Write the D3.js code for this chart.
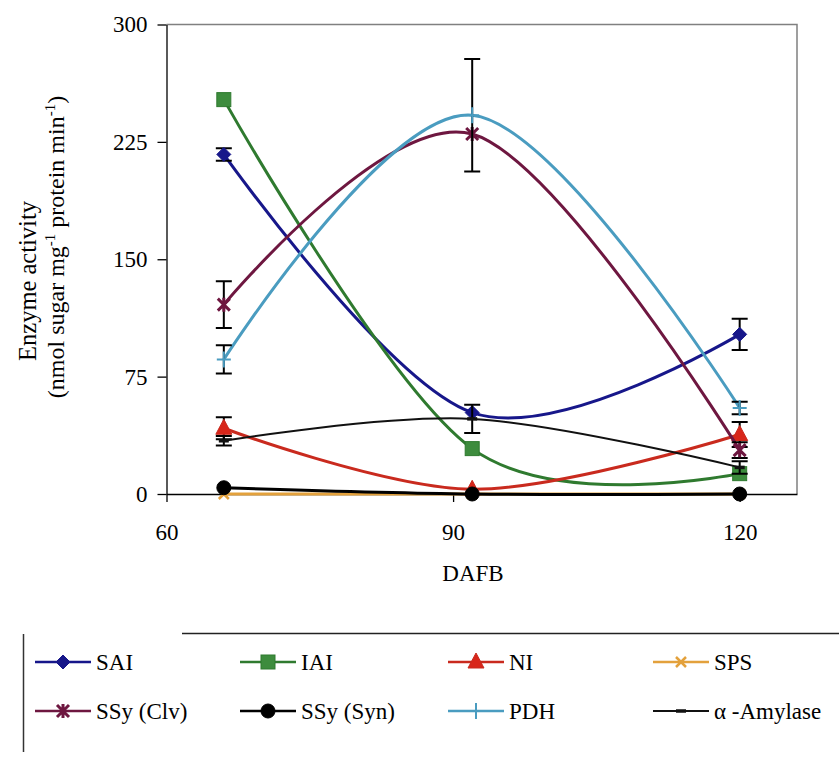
<!DOCTYPE html>
<html>
<head>
<meta charset="utf-8">
<script src="https://cdn.jsdelivr.net/npm/d3@7"></script>
<style>
  html, body { margin: 0; padding: 0; background: #fff; }
  svg { display: block; }
</style>
</head>
<body>
<svg id="chart" width="839" height="761"></svg>
<script>
// Sampling days (days after full bloom)
const dafb = [66, 92, 120];

// Enzyme activities (nmol sugar mg-1 protein min-1) and their error bars
const sai = [217, 52, 102];
const saiErr = [4, 0, 10];
const iai = [252, 29, 13];
const iaiErr = [0, 0, 0];
const ni = [42, 3, 38];
const niErr = [7, 0, 8];
const sps = [0, 0, 0];
const spsErr = [0, 0, 0];
const ssyClv = [121, 230, 28];
const ssyClvErr = [15, 0, 5];
const ssySyn = [4, 0, 0];
const ssySynErr = [0, 0, 0];
const pdh = [86, 242, 55];
const pdhErr = [9, 36, 4];
const amylase = [34, 48, 17];
const amylaseErr = [3, 9, 4];

const seriesNames = ["SAI", "IAI", "NI", "SPS", "SSy (Clv)", "SSy (Syn)", "PDH", "\u03b1 -Amylase"];

// Axis ticks
const yTicks = [0, 75, 150, 225, 300];
const xTicks = [60, 90, 120];

const series = [
  { name: seriesNames[0], v: sai, e: saiErr, color: "#17178a", marker: "diamond", w: 3 },
  { name: seriesNames[1], v: iai, e: iaiErr, color: "#2f7a2f", fill: "#3d8c3d", marker: "square", w: 3 },
  { name: seriesNames[2], v: ni, e: niErr, color: "#c92a1e", fill: "#d8261a", marker: "triangle", w: 3 },
  { name: seriesNames[3], v: sps, e: spsErr, color: "#e3a13c", marker: "x", w: 3 },
  { name: seriesNames[4], v: ssyClv, e: ssyClvErr, color: "#6e1740", marker: "star", w: 3 },
  { name: seriesNames[5], v: ssySyn, e: ssySynErr, color: "#000000", marker: "circle", w: 3 },
  { name: seriesNames[6], v: pdh, e: pdhErr, color: "#4a9cc0", marker: "plus", w: 3 },
  { name: seriesNames[7], v: amylase, e: amylaseErr, color: "#111111", marker: "dash", w: 2 }
];

const FS = 23;

const svg = d3.select("#chart");
const plotLeft = 166.5, plotRight = 797, plotTop = 24.5, plotBottom = 494;

const x = d3.scaleLinear().domain([60, 126]).range([plotLeft, plotRight]);
const y = d3.scaleLinear().domain([0, 300]).range([plotBottom, plotTop]);

function label(sel, size) {
  return sel.style("font-family", "Liberation Serif").style("font-size", (size || FS) + "px").attr("fill", "#000");
}

// Plot frame (top and right edges)
svg.append("path")
  .attr("d", `M${plotLeft},${plotTop}H${plotRight}V${plotBottom}`)
  .attr("fill", "none").attr("stroke", "#808080").attr("stroke-width", 1.5);

// Axes
const yAxis = svg.append("g").attr("transform", `translate(${plotLeft},0)`)
  .call(d3.axisLeft(y).tickValues(yTicks).tickSize(9).tickSizeOuter(0).tickPadding(10));
const xAxis = svg.append("g").attr("transform", `translate(0,${plotBottom})`)
  .call(d3.axisBottom(x).tickValues(xTicks).tickSize(8).tickSizeOuter(0).tickPadding(22));
[yAxis, xAxis].forEach(g => {
  label(g.selectAll("text"));
  g.selectAll("line").attr("stroke", "#000").attr("stroke-width", 1.3);
  g.select(".domain").attr("stroke", "#000").attr("stroke-width", 1.3);
});

// Axis titles
label(svg.append("text")).attr("x", 473).attr("y", 581)
  .attr("text-anchor", "middle").text("DAFB");

label(svg.append("text"), 24.5)
  .attr("transform", "translate(36,281) rotate(-90)")
  .attr("text-anchor", "middle").text("Enzyme activity");

const t2 = label(svg.append("text"), 24)
  .attr("transform", "translate(64,247) rotate(-90)")
  .attr("text-anchor", "middle");
t2.append("tspan").text("(nmol sugar mg");
t2.append("tspan").attr("dy", -9).style("font-size", "15px").text("-1");
t2.append("tspan").attr("dy", 9).text("  protein min");
t2.append("tspan").attr("dy", -9).style("font-size", "15px").text("-1");
t2.append("tspan").attr("dy", 9).text(")");

// Marker drawing
function drawMarker(g, type, color, fill) {
  const f = fill || color;
  switch (type) {
    case "diamond":
      g.append("path").attr("d", "M0,-7L7,0L0,7L-7,0Z").attr("fill", f).attr("stroke", color).attr("stroke-width", 1);
      break;
    case "square":
      g.append("rect").attr("x", -7).attr("y", -7).attr("width", 14).attr("height", 14)
        .attr("fill", f).attr("stroke", color).attr("stroke-width", 1);
      break;
    case "triangle":
      g.append("path").attr("d", "M0,-9L8,6L-8,6Z").attr("fill", f).attr("stroke", color).attr("stroke-width", 1);
      break;
    case "circle":
      g.append("circle").attr("r", 7).attr("fill", f).attr("stroke", color);
      break;
    case "x":
      g.append("path").attr("d", "M-5,-5L5,5M-5,5L5,-5").attr("stroke", color).attr("stroke-width", 2.5).attr("fill", "none");
      break;
    case "star":
      g.append("path").attr("d", "M-6,-6L6,6M-6,6L6,-6M0,-7L0,7").attr("stroke", color).attr("stroke-width", 3).attr("fill", "none");
      break;
    case "plus":
      g.append("path").attr("d", "M-7,0L7,0M0,-8L0,8").attr("stroke", color).attr("stroke-width", 2).attr("fill", "none");
      break;
    case "dash":
      g.append("path").attr("d", "M-5,0L5,0").attr("stroke", color).attr("stroke-width", 3.5).attr("fill", "none");
      break;
  }
}

const line = d3.line()
  .x(d => x(d[0]))
  .y(d => y(d[1]))
  .curve(d3.curveCardinal.tension(0));

const plot = svg.append("g");
series.forEach(s => {
  const pts = dafb.map((d, i) => [d, s.v[i], s.e[i]]);
  const g = plot.append("g");
  g.append("path").datum(pts).attr("d", line)
    .attr("fill", "none").attr("stroke", s.color).attr("stroke-width", s.w)
    .attr("stroke-linejoin", "round");
  // error bars
  pts.filter(p => p[2] > 0).forEach(p => {
    const cx = x(p[0]), y1 = y(p[1] - p[2]), y2 = y(p[1] + p[2]);
    g.append("path")
      .attr("d", `M${cx},${y1}V${y2}M${cx - 8},${y1}H${cx + 8}M${cx - 8},${y2}H${cx + 8}`)
      .attr("stroke", "#000").attr("stroke-width", 2).attr("fill", "none");
  });
  pts.forEach(p => {
    const m = g.append("g").attr("transform", `translate(${x(p[0])},${y(p[1])})`);
    drawMarker(m, s.marker, s.color, s.fill);
  });
});

// Legend
const lg = svg.append("g");
lg.append("path").attr("d", "M182,633.5H839").attr("stroke", "#222").attr("stroke-width", 1.5);
lg.append("path").attr("d", "M23.5,634V752").attr("stroke", "#333").attr("stroke-width", 1.5);

const colX = [35, 240, 448, 653];
const rowY = [662, 711];
series.forEach((s, i) => {
  const c = i % 4, r = Math.floor(i / 4);
  const x0 = colX[c], yy = rowY[r];
  const x1 = x0 + 56;
  const g = lg.append("g");
  g.append("path").attr("d", `M${x0},${yy}H${x1}`).attr("stroke", s.color).attr("stroke-width", s.marker === "dash" ? 1.8 : 2.5);
  const m = g.append("g").attr("transform", `translate(${(x0 + x1) / 2},${yy})`);
  drawMarker(m, s.marker, s.color, s.fill);
  label(g.append("text")).attr("x", x1 + 5).attr("y", yy + 8).text(s.name);
});
</script>
</body>
</html>
